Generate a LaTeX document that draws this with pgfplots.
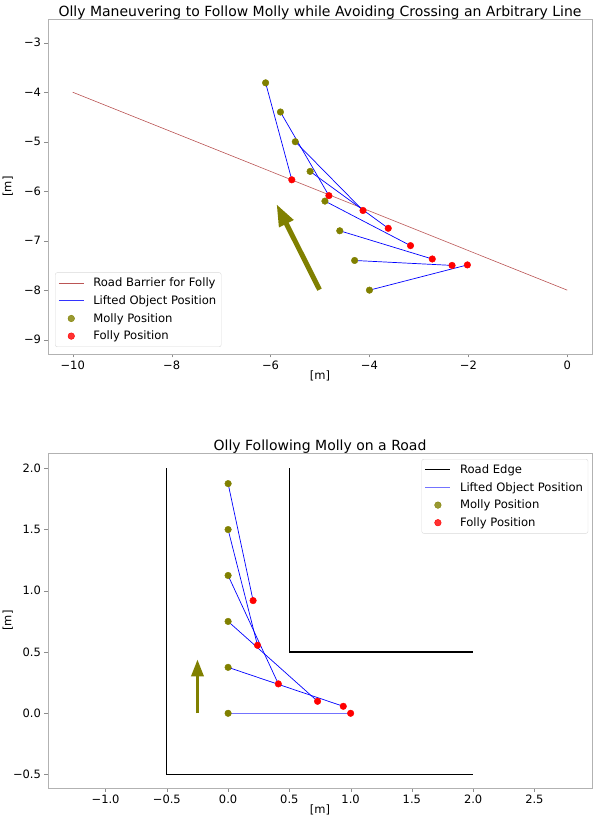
\documentclass[border=0pt]{standalone}
\usepackage{fontspec}
\setmainfont{DejaVu Sans}
\usepackage{pgfplots}
\pgfplotsset{compat=1.18}
\usetikzlibrary{arrows.meta}
\definecolor{molly}{HTML}{808000}
\definecolor{barrier}{HTML}{BB5555}
\colorlet{paleblue}{blue!55!white}

\pgfplotsset{
  legend image code/.code={\draw[mark repeat=2,mark phase=2,#1]
    plot coordinates {(0pt,0pt) (12.5pt,0pt) (25pt,0pt)};},
  link/.style={blue, line width=0.7pt},
  mdot/.style={only marks, mark=*, mark size=3.3pt, color=molly},
  fdot/.style={only marks, mark=*, mark size=3.3pt, color=red},
  robot/.style={
    scale only axis, width=544pt, height=335pt,
    axis line style={black!30}, tick style={black!45},
    tick pos=left, tick align=outside, major tick length=3.5pt,
    ticklabel style={font=\fontsize{11.5}{13}\selectfont},
    label style={font=\fontsize{11.5}{13}\selectfont},
    xlabel style={at={(axis description cs:0.5,-0.066)}, anchor=center},
    ylabel style={at={(axis description cs:-0.074,0.5)}, anchor=center},
    title style={font=\fontsize{14}{16}\selectfont, anchor=base, yshift=-4pt},
    xlabel={[m]}, ylabel={[m]},
    legend cell align=left,
    legend style={draw=black!15, rounded corners=2pt, fill=white, fill opacity=0.8,
      text opacity=1, font=\fontsize{11.6}{13}\selectfont,
      inner xsep=3pt, inner ysep=3.5pt, row sep=3.3pt, column sep=7pt},
  }
}

\begin{document}
\begin{tikzpicture}[x=1pt,y=1pt]
\useasboundingbox (0,0) rectangle (602,819);

% ---------- top: avoiding a line ----------
\begin{axis}[robot, at={(48pt,465pt)}, anchor=south west,
  xmin=-10.5, xmax=0.5, ymin=-9.29, ymax=-2.52,
  xtick={-10,-8,-6,-4,-2,0}, xticklabels={−10,−8,−6,−4,−2,0},
  ytick={-9,-8,-7,-6,-5,-4,-3}, yticklabels={−9,−8,−7,−6,−5,−4,−3},
  title={Olly Maneuvering to Follow Molly while Avoiding Crossing an Arbitrary Line},
  legend style={at={(0.013,0.021)}, anchor=south west}]
\addplot[barrier, line width=0.6pt] coordinates {(-10,-4) (0,-8)};
\addlegendentry{Road Barrier for Folly}
\addplot[link, legend image post style={draw=blue!80!white, line width=1pt}]
  coordinates {(-6.10,-3.81) (-5.57,-5.77)};
\addlegendentry{Lifted Object Position}
\addplot[link, forget plot] coordinates {(-5.80,-4.40) (-4.82,-6.09)};
\addplot[link, forget plot] coordinates {(-5.50,-5.00) (-4.13,-6.39)};
\addplot[link, forget plot] coordinates {(-5.20,-5.60) (-3.62,-6.75)};
\addplot[link, forget plot] coordinates {(-4.90,-6.20) (-3.17,-7.10)};
\addplot[link, forget plot] coordinates {(-4.60,-6.80) (-2.73,-7.37)};
\addplot[link, forget plot] coordinates {(-4.30,-7.40) (-2.33,-7.50)};
\addplot[link, forget plot] coordinates {(-4.00,-8.00) (-2.02,-7.49)};
\addplot[mdot] coordinates {(-6.10,-3.81) (-5.80,-4.40) (-5.50,-5.00) (-5.20,-5.60)
  (-4.90,-6.20) (-4.60,-6.80) (-4.30,-7.40) (-4.00,-8.00)};
\addlegendentry{Molly Position}
\addplot[fdot] coordinates {(-5.57,-5.77) (-4.82,-6.09) (-4.13,-6.39) (-3.62,-6.75)
  (-3.17,-7.10) (-2.73,-7.37) (-2.33,-7.50) (-2.02,-7.49)};
\addlegendentry{Folly Position}
\addplot[forget plot, molly, line width=5pt, -{Triangle[length=22pt,width=15pt]}]
  coordinates {(-5.01,-7.99) (-5.88,-6.26)};
\end{axis}

% ---------- bottom: following on a road ----------
\begin{axis}[robot, at={(48pt,31pt)}, anchor=south west,
  xmin=-1.47, xmax=2.97, ymin=-0.61, ymax=2.125,
  xtick={-1,-0.5,0,0.5,1,1.5,2,2.5},
  xticklabels={−1.0,−0.5,0.0,0.5,1.0,1.5,2.0,2.5},
  ytick={-0.5,0,0.5,1,1.5,2}, yticklabels={−0.5,0.0,0.5,1.0,1.5,2.0},
  title={Olly Following Molly on a Road},
  legend style={at={(0.993,0.982)}, anchor=north east}]
\addplot[black, line width=1.2pt] coordinates {(-0.5,2) (-0.5,-0.5) (2,-0.5)};
\addlegendentry{Road Edge}
\addplot[black, line width=1.2pt, forget plot] coordinates {(0.5,2) (0.5,0.5) (2,0.5)};
\addplot[link, legend image post style={draw=paleblue, line width=1.3pt}]
  coordinates {(0,1.875) (0.204,0.92)};
\addlegendentry{Lifted Object Position}
\addplot[link, forget plot] coordinates {(0,1.5) (0.24,0.555)};
\addplot[link, forget plot] coordinates {(0,1.125) (0.41,0.24)};
\addplot[link, forget plot] coordinates {(0,0.75) (0.73,0.098)};
\addplot[link, forget plot] coordinates {(0,0.375) (0.94,0.057)};
\addplot[paleblue, line width=1.3pt, forget plot] coordinates {(0,0) (1.0,0)};
\addplot[mdot] coordinates {(0,0) (0,0.375) (0,0.75) (0,1.125) (0,1.5) (0,1.875)};
\addlegendentry{Molly Position}
\addplot[fdot] coordinates {(0.204,0.92) (0.24,0.555) (0.41,0.24) (0.73,0.098)
  (0.94,0.057) (1.0,0)};
\addlegendentry{Folly Position}
\addplot[forget plot, molly, line width=3.5pt, -{Triangle[length=17pt,width=12pt]}]
  coordinates {(-0.25,0) (-0.25,0.44)};
\end{axis}
\end{tikzpicture}
\end{document}
